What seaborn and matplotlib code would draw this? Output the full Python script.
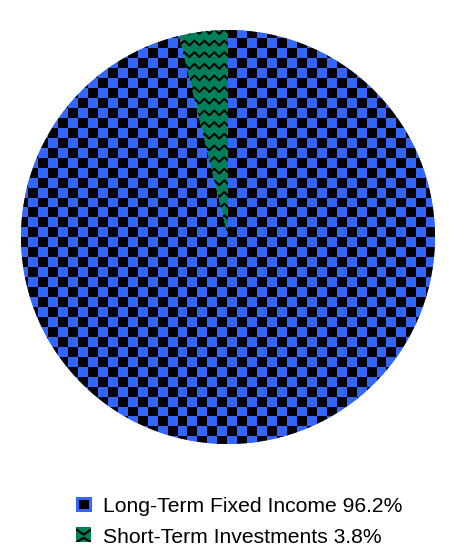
import numpy as np
import matplotlib
matplotlib.use("Agg")
import matplotlib.pyplot as plt
import seaborn as sns
from matplotlib.patches import Rectangle
from matplotlib.lines import Line2D
from matplotlib.legend_handler import HandlerBase

# data
labels = ["Long-Term Fixed Income", "Short-Term Investments"]
values = [96.2, 3.8]
colors = ["#3366FF", "#00805A"]

sns.set_style("white")
plt.rcParams["font.family"] = ["Liberation Sans", "DejaVu Sans"]
plt.rcParams["text.color"] = "black"

fig = plt.figure(figsize=(4.56, 5.52), dpi=100)
ax = fig.add_axes([20 / 456, 108 / 552, 416 / 456, 414 / 552])

wedges, _ = ax.pie(values, colors=colors, startangle=90, counterclock=False,
                   wedgeprops=dict(linewidth=0))
ax.set_xlim(-1, 1)
ax.set_ylim(-1, 1)
ax.set_aspect("equal")
ax.axis("off")

# checkerboard texture for the first wedge (10 px cells)
px = 1 / 208
cell = 10 * px
n = 46
ii, jj = np.indices((n, n))
board = ((ii + jj) % 2).astype(float)
cmap = matplotlib.colors.ListedColormap(["black", colors[0]])
cx, cy = -0.7 * px, -0.3 * px
ext = [cx - cell * n / 2, cx + cell * n / 2, cy - cell * n / 2, cy + cell * n / 2]
img = ax.imshow(board, cmap=cmap, extent=ext, interpolation="nearest",
                origin="lower", zorder=2)
img.set_clip_path(wedges[0])

# zigzag texture for the second wedge
period = 10 * px
amp = 5 * px
gap = 11.7 * px
xs = np.arange(-1.1, 1.1, period / 2)
for y0 in np.arange(-1.1, 1.1, gap):
    ys = y0 + amp * (np.arange(len(xs)) % 2)
    ln, = ax.plot(xs, ys, color="black", lw=1.4, zorder=3)
    ln.set_clip_path(wedges[1])


class BoardHandler(HandlerBase):
    def create_artists(self, legend, orig, x0, y0, w, h, fs, trans):
        s = min(w, h)
        r = Rectangle((x0 + 1, y0 + (h - s) / 2 + 1), s - 2, s - 2, facecolor="black",
                      edgecolor=colors[0], lw=2.2, transform=trans)
        return [r]


class ZigHandler(HandlerBase):
    def create_artists(self, legend, orig, x0, y0, w, h, fs, trans):
        s = min(w, h)
        b = y0 + (h - s) / 2
        r = Rectangle((x0, b), s, s, facecolor=colors[1], edgecolor="none",
                      transform=trans)
        z = Line2D([x0, x0 + s / 2, x0 + s], [b + s * 0.85, b + s * 0.5, b + s * 0.85],
                   color="black", lw=1.5, transform=trans)
        z2 = Line2D([x0, x0 + s / 2, x0 + s], [b + s * 0.0, b + s * 0.3, b + s * 0.0],
                    color="black", lw=1.5, transform=trans)
        z.set_clip_path(r)
        z2.set_clip_path(r)
        return [r, z, z2]


h1 = Rectangle((0, 0), 1, 1)
h2 = Rectangle((0, 0), 1, 1)
leg_labels = [f"{l} {v}%" for l, v in zip(labels, values)]
fig.legend([h1, h2], leg_labels, loc="upper left",
           bbox_to_anchor=(76 / 456, 1 - 497 / 552), frameon=False,
           borderpad=0, borderaxespad=0,
           fontsize=15.2, handlelength=0.75, handleheight=0.75, handletextpad=0.55,
           labelspacing=0.55,
           handler_map={h1: BoardHandler(), h2: ZigHandler()})

fig.savefig("out.png", dpi=100)
